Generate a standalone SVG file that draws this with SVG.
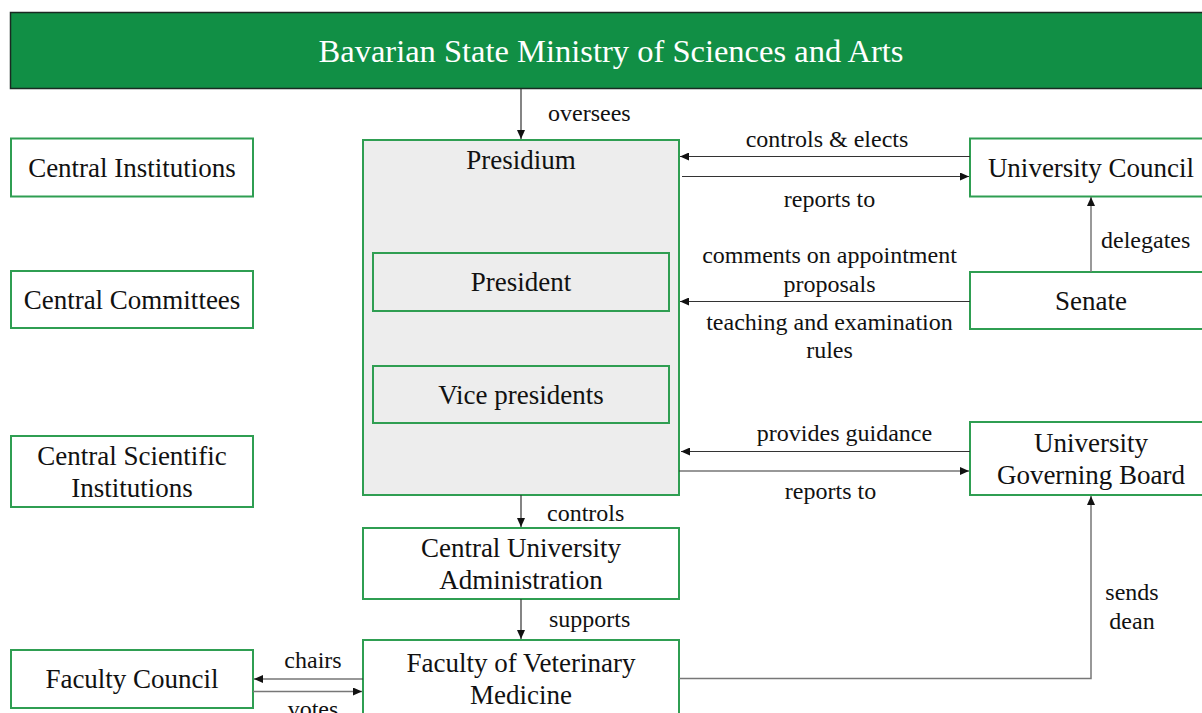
<svg xmlns="http://www.w3.org/2000/svg" width="1202" height="713" viewBox="0 0 1202 713">
<style>
  .node { fill: #ffffff; stroke: #2f9e52; stroke-width: 2; }
  .grey { fill: #ededed; stroke: #2f9e52; stroke-width: 2; }
  .lbl { font-family: "Liberation Serif", "Times New Roman", serif; font-size: 27px; fill: #111; text-anchor: middle; }
  .elbl { font-family: "Liberation Serif", "Times New Roman", serif; font-size: 24px; fill: #111; }
  .mid { text-anchor: middle; }
  .edge { fill: none; stroke: #333; stroke-width: 1.2; }
  .edge2 { fill: none; stroke: #777; stroke-width: 1.5; }
</style>
<defs>
  <marker id="arr" markerUnits="userSpaceOnUse" markerWidth="9" markerHeight="8" refX="9" refY="4" orient="auto">
    <path d="M0,0 L9,4 L0,8 z" fill="#111"/>
  </marker>
</defs>
<rect width="1202" height="713" fill="#ffffff"/>

<g id="ministry">
  <rect x="10.5" y="12.5" width="1200" height="76" fill="#118f45" stroke="#1a2a22" stroke-width="1.5"/>
  <text x="611" y="62" font-family="'Liberation Serif', 'Times New Roman', serif" font-size="32.5" fill="#ffffff" text-anchor="middle">Bavarian State Ministry of Sciences and Arts</text>
</g>

<g id="central-institutions">
  <rect class="node" x="11" y="138.5" width="242" height="58"/>
  <text class="lbl" x="132" y="177">Central Institutions</text>
</g>
<g id="central-committees">
  <rect class="node" x="11" y="271" width="242" height="57"/>
  <text class="lbl" x="132" y="309">Central Committees</text>
</g>
<g id="central-scientific-institutions">
  <rect class="node" x="11" y="436" width="242" height="71"/>
  <text class="lbl" x="132" y="465">Central Scientific</text>
  <text class="lbl" x="132" y="497">Institutions</text>
</g>
<g id="faculty-council">
  <rect class="node" x="11" y="650" width="242" height="58"/>
  <text class="lbl" x="132" y="688">Faculty Council</text>
</g>

<g id="presidium">
  <rect class="grey" x="363" y="140" width="316" height="355"/>
  <text class="lbl" x="521" y="169">Presidium</text>
</g>
<g id="president">
  <rect class="grey" x="373" y="253" width="296" height="58"/>
  <text class="lbl" x="521" y="291">President</text>
</g>
<g id="vice-presidents">
  <rect class="grey" x="373" y="366" width="296" height="57"/>
  <text class="lbl" x="521" y="404">Vice presidents</text>
</g>
<g id="central-university-administration">
  <rect class="node" x="363" y="528" width="316" height="71"/>
  <text class="lbl" x="521" y="557">Central University</text>
  <text class="lbl" x="521" y="589">Administration</text>
</g>
<g id="faculty-vet-medicine">
  <rect class="node" x="363" y="640" width="316" height="90"/>
  <text class="lbl" x="521" y="672">Faculty of Veterinary</text>
  <text class="lbl" x="521" y="704">Medicine</text>
</g>

<g id="university-council">
  <rect class="node" x="970" y="138.5" width="242" height="58"/>
  <text class="lbl" x="1091" y="177">University Council</text>
</g>
<g id="senate">
  <rect class="node" x="970" y="272" width="242" height="57"/>
  <text class="lbl" x="1091" y="310">Senate</text>
</g>
<g id="university-governing-board">
  <rect class="node" x="970" y="422" width="242" height="73"/>
  <text class="lbl" x="1091" y="452">University</text>
  <text class="lbl" x="1091" y="484">Governing Board</text>
</g>

<g id="connectors">
  <line class="edge" x1="521" y1="89" x2="521" y2="139" marker-end="url(#arr)"/>
  <text class="elbl" x="548" y="121">oversees</text>

  <line class="edge" x1="970" y1="156.5" x2="680" y2="156.5" marker-end="url(#arr)"/>
  <text class="elbl mid" x="827" y="147">controls &amp; elects</text>
  <line class="edge" x1="682" y1="176.5" x2="969" y2="176.5" marker-end="url(#arr)"/>
  <text class="elbl mid" x="829.5" y="207">reports to</text>

  <line class="edge2" x1="1091" y1="272" x2="1091" y2="197" marker-end="url(#arr)"/>
  <text class="elbl" x="1101" y="248">delegates</text>

  <line class="edge" x1="970" y1="301.5" x2="680" y2="301.5" marker-end="url(#arr)"/>
  <text class="elbl mid" x="829.5" y="263">comments on appointment</text>
  <text class="elbl mid" x="829.5" y="292">proposals</text>
  <text class="elbl mid" x="829.5" y="330">teaching and examination</text>
  <text class="elbl mid" x="829.5" y="358">rules</text>

  <line class="edge" x1="970" y1="451.5" x2="681" y2="451.5" marker-end="url(#arr)"/>
  <text class="elbl mid" x="844.5" y="441">provides guidance</text>
  <line class="edge" x1="679" y1="471" x2="969" y2="471" marker-end="url(#arr)"/>
  <text class="elbl mid" x="830.5" y="499">reports to</text>

  <line class="edge" x1="521" y1="495" x2="521" y2="527" marker-end="url(#arr)"/>
  <text class="elbl" x="547" y="521">controls</text>
  <line class="edge" x1="521" y1="599" x2="521" y2="639" marker-end="url(#arr)"/>
  <text class="elbl" x="549" y="627">supports</text>

  <line class="edge" x1="363" y1="679" x2="254" y2="679" marker-end="url(#arr)"/>
  <text class="elbl mid" x="313" y="668">chairs</text>
  <line class="edge2" x1="253" y1="691.5" x2="362" y2="691.5" marker-end="url(#arr)"/>
  <text class="elbl mid" x="313" y="717">votes</text>

  <polyline class="edge2" points="679,678.5 1091,678.5 1091,496" marker-end="url(#arr)"/>
  <text class="elbl mid" x="1132" y="600">sends</text>
  <text class="elbl mid" x="1132" y="629">dean</text>
</g>
</svg>
